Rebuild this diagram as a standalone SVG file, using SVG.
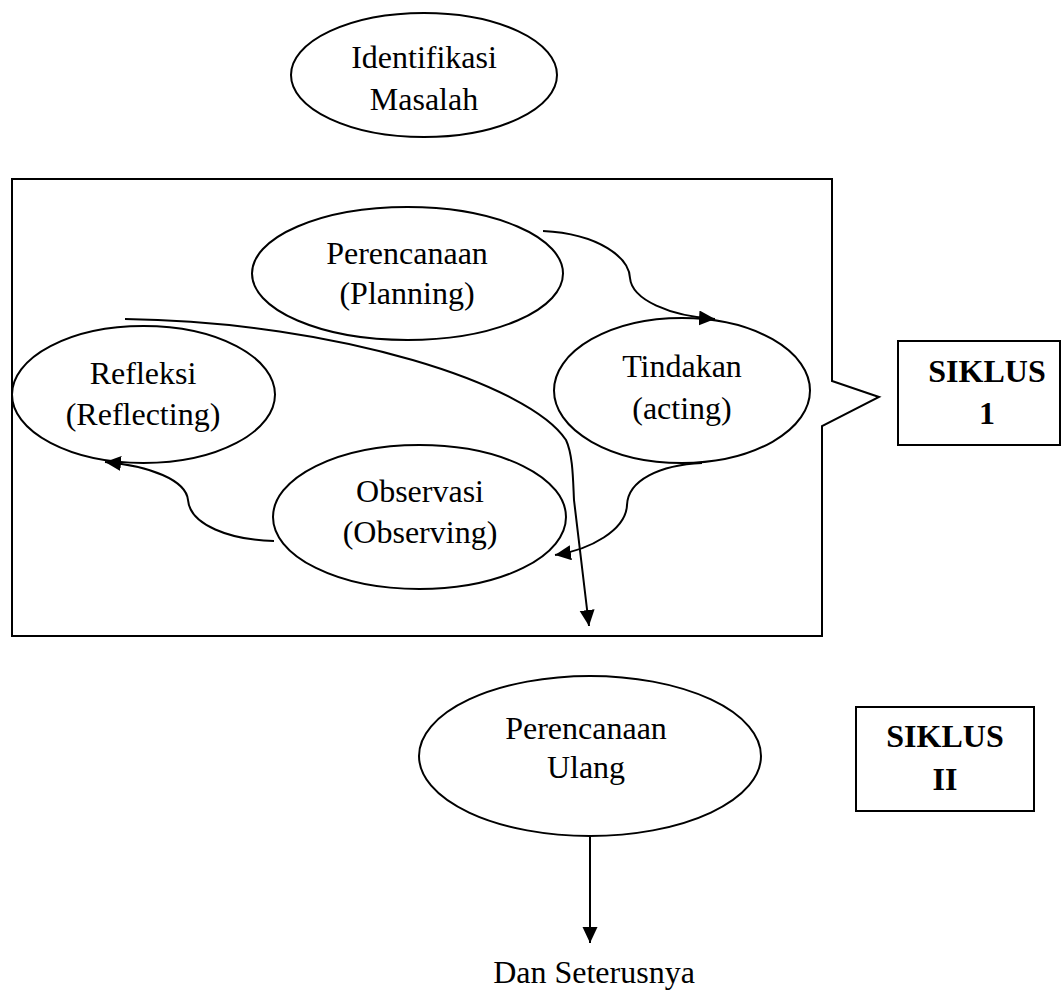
<svg xmlns="http://www.w3.org/2000/svg" width="1062" height="990" viewBox="0 0 1062 990">
<style>
.n{fill:#fff;stroke:#000;stroke-width:2}
.t{font-family:"Liberation Serif","Times New Roman",serif;font-size:32px;fill:#000;text-anchor:middle}
.b{font-weight:bold}
.c{fill:none;stroke:#000;stroke-width:2}
</style>
<defs>
<marker id="ah" markerUnits="userSpaceOnUse" markerWidth="18" markerHeight="16" refX="16" refY="7.5" orient="auto">
<path d="M0,0 L16,7.5 L0,15 Z" fill="#000"/>
</marker>
</defs>
<rect width="1062" height="990" fill="#fff"/>
<g id="siklus1-frame">
<path class="n" d="M12,179 L832,179 L832,381 L879,397 L822,426 L822,636 L12,636 Z"/>
</g>
<g id="identifikasi">
<ellipse class="n" cx="424" cy="75" rx="133" ry="62"/>
<text class="t" x="424" y="68">Identifikasi</text>
<text class="t" x="424" y="110">Masalah</text>
</g>
<g id="perencanaan">
<ellipse class="n" cx="407.5" cy="273.5" rx="155.5" ry="66.5"/>
<text class="t" x="407" y="264">Perencanaan</text>
<text class="t" x="407" y="304">(Planning)</text>
</g>
<g id="tindakan">
<ellipse class="n" cx="682" cy="390.5" rx="128" ry="72.5"/>
<text class="t" x="682" y="377">Tindakan</text>
<text class="t" x="682" y="419">(acting)</text>
</g>
<g id="refleksi">
<ellipse class="n" cx="143.5" cy="394.5" rx="131.5" ry="68.5"/>
<text class="t" x="143" y="384">Refleksi</text>
<text class="t" x="143" y="425">(Reflecting)</text>
</g>
<g id="observasi">
<ellipse class="n" cx="419.5" cy="517" rx="146.5" ry="72"/>
<text class="t" x="420" y="502">Observasi</text>
<text class="t" x="420" y="543">(Observing)</text>
</g>
<g id="siklus1">
<rect class="n" x="898" y="341" width="162" height="104"/>
<text class="t b" x="987" y="382">SIKLUS</text>
<text class="t b" x="987" y="424">1</text>
</g>
<g id="perencanaan-ulang">
<ellipse class="n" cx="590" cy="756" rx="171" ry="80"/>
<text class="t" x="586" y="739">Perencanaan</text>
<text class="t" x="586" y="778">Ulang</text>
</g>
<g id="siklus2">
<rect class="n" x="856" y="707" width="178" height="104"/>
<text class="t b" x="945" y="747">SIKLUS</text>
<text class="t b" x="945" y="790">II</text>
</g>
<g id="dan-seterusnya">
<text class="t" x="594" y="983">Dan Seterusnya</text>
</g>
<g id="connectors">
<path class="c" marker-end="url(#ah)" d="M543,231 C600,234 629,258 630,278 C632,300 670,316 715,319"/>
<path class="c" marker-end="url(#ah)" d="M702,463 C660,465 628,480 627,505 C626,530 590,550 555,555"/>
<path class="c" marker-end="url(#ah)" d="M274,541 C230,540 190,525 188,500 C186,480 150,466 105,462"/>
<path class="c" marker-end="url(#ah)" d="M125,319 C340,322 530,385 566,440 C573,455 573,480 574,500 L589,626"/>
<path class="c" marker-end="url(#ah)" d="M590,836 L590,943"/>
</g>
</svg>
